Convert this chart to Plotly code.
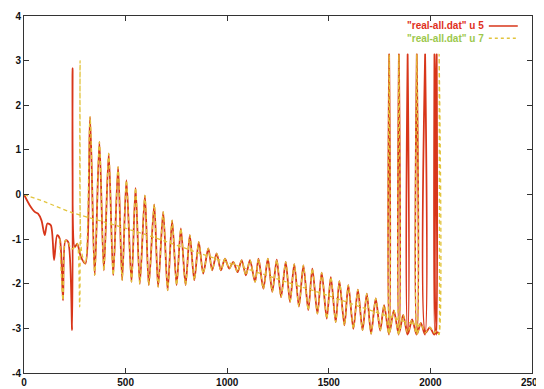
import plotly.graph_objects as go

# ---------------- data ----------------
x_ticks = [0, 500, 1000, 1500, 2000, 2500]
y_ticks = [-4, -3, -2, -1, 0, 1, 2, 3, 4]

series_names = ['"real-all.dat" u 5', '"real-all.dat" u 7']

# start of column 5 (before the common oscillation)
u5_head_x = [0, 28, 53, 69, 86, 102, 115, 132, 148, 163, 176, 192, 204, 217, 237, 239, 250, 262, 280]
u5_head_y = [0, -0.24, -0.39, -0.43, -0.58, -0.91, -0.65, -0.69, -1.47, -0.91, -0.99, -2.37, -1.03,
             -1.06, -3.04, 2.83, -1.18, -1.10, -1.40]

# start of column 7 oscillation
u7_head_x = [176, 192, 204, 217, 232, 250, 262, 274, 276, 284]
u7_head_y = [-0.99, -2.37, -1.03, -1.06, -1.22, -1.18, -1.10, -2.52, 3.00, -1.30]

# oscillation shared by both columns (alternating troughs / peaks)
osc_x = [302, 325, 348, 371, 393, 417, 439, 463, 483, 504, 529, 549, 570, 595, 614, 641, 660, 685,
         707, 729, 751, 772, 795, 816, 838, 860, 882, 907, 926, 948, 969, 989, 1010, 1030, 1051,
         1071, 1092, 1112, 1137, 1154, 1178, 1200, 1222, 1244, 1265, 1288, 1309, 1330, 1353, 1375,
         1399, 1419, 1444, 1465, 1490, 1510, 1534, 1552, 1577, 1596, 1621, 1643, 1666, 1687, 1708,
         1731, 1753, 1772]
osc_y = [-1.55, 1.74, -1.81, 1.18, -1.70, 0.92, -1.81, 0.62, -1.92, 0.32, -1.96, 0.15, -2.00, -0.02,
         -2.03, -0.22, -2.07, -0.39, -2.15, -0.58, -2.03, -0.76, -2.03, -0.91, -1.92, -1.06, -1.77,
         -1.21, -1.70, -1.32, -1.70, -1.44, -1.66, -1.51, -1.74, -1.47, -1.81, -1.47, -1.96, -1.44,
         -2.11, -1.44, -2.18, -1.46, -2.30, -1.51, -2.41, -1.56, -2.51, -1.59, -2.59, -1.66, -2.67,
         -1.75, -2.78, -1.85, -2.86, -1.94, -2.93, -2.03, -3.01, -2.13, -3.04, -2.22, -3.12, -2.33,
         -3.05, -2.48]

# ends with phase wraps
u5_tail_x = [1796, 1797, 1799, 1820, 1844, 1845, 1847, 1866, 1887, 1888, 1890, 1910, 1932, 1933,
             1935, 1953, 1973, 1974, 1976, 1997, 2019, 2020, 2022, 2026, 2030, 2031, 2033, 2040]
u5_tail_y = [-3.14, 3.14, -3.10, -2.60, -3.14, 3.14, -3.10, -2.70, -3.14, 3.14, -3.12, -2.80, -3.14,
             3.14, -3.12, -2.88, -3.14, 3.14, -3.10, -2.98, -3.14, 3.14, -3.12, -3.05, -3.14, 3.14,
             -3.10, -3.08]
u7_tail_x = [1796, 1797, 1799, 1820, 1844, 1845, 1847, 1866, 1888, 1910, 1932, 1933, 1935, 1953,
             1974, 1997, 2020, 2030, 2042, 2043, 2045]
u7_tail_y = [-3.14, 3.14, -3.10, -2.60, -3.14, 3.14, -3.10, -2.70, -3.10, -2.80, -3.14, 3.14, -3.12,
             -2.88, -3.10, -2.98, -3.10, -3.05, -3.14, 3.14, -3.10]

# smooth part of column 7
u7_trend_x = [0, 100, 233, 398, 600, 866, 1000, 1285, 1500, 1753, 1950]
u7_trend_y = [0, -0.16, -0.40, -0.62, -0.90, -1.32, -1.52, -1.95, -2.27, -2.67, -2.95]

# ---------------- styling ----------------
RED = "#d8361a"
YEL = "#e2c43c"
RED_TXT = "#e0301c"
GRN_TXT = "#9cc84c"

u5_x = u5_head_x + osc_x + u5_tail_x
u5_y = u5_head_y + osc_y + u5_tail_y
u7_x = u7_trend_x + [None] + u7_head_x + osc_x + u7_tail_x
u7_y = u7_trend_y + [None] + u7_head_y + osc_y + u7_tail_y

fig = go.Figure()
fig.add_trace(go.Scatter(x=u5_x, y=u5_y, mode="lines", name=series_names[0],
                         line=dict(color=RED, width=1.8, shape="spline", smoothing=0.8),
                         showlegend=False))
fig.add_trace(go.Scatter(x=u7_x, y=u7_y, mode="lines", name=series_names[1],
                         line=dict(color=YEL, width=1.3, dash="4px,3px", shape="spline", smoothing=0.8),
                         showlegend=False, connectgaps=False))

axis_common = dict(showline=True, linecolor="#333333", linewidth=1, mirror="ticks",
                   ticks="inside", ticklen=5, tickcolor="#333333", showgrid=False, zeroline=False,
                   automargin=False,
                   tickfont=dict(family="Liberation Sans", size=10, color="#111111", weight="bold"))

# the page body adds an 8 px offset, so the figure is sized/margined to land the
# plot frame where the reference has it
fig.update_layout(
    width=536, height=381,
    margin=dict(l=16, r=12, t=8, b=16),
    paper_bgcolor="white", plot_bgcolor="white",
    xaxis=dict(range=[0, 2500], tickvals=x_ticks, ticktext=[str(v) for v in x_ticks], **axis_common),
    yaxis=dict(range=[-4, 4], tickvals=y_ticks, ticktext=[str(v) for v in y_ticks], **axis_common),
)

# gnuplot-style key (text, then sample on the right)
key_rows = [(0.972, series_names[0], RED_TXT, RED, "solid"),
            (0.938, series_names[1], GRN_TXT, YEL, "3px,3px")]
for yk, txt, tc, lc, dsh in key_rows:
    fig.add_annotation(xref="x domain", yref="y domain", x=0.9075, y=yk, text=txt, showarrow=False,
                       xanchor="right", yanchor="middle", borderpad=0,
                       font=dict(family="Liberation Sans", size=10, color=tc, weight="bold"))
    fig.add_shape(type="line", xref="x domain", yref="y domain", x0=0.915, x1=0.972, y0=yk, y1=yk,
                  line=dict(color=lc, width=1.5, dash=dsh))

fig.write_html("out.html")
